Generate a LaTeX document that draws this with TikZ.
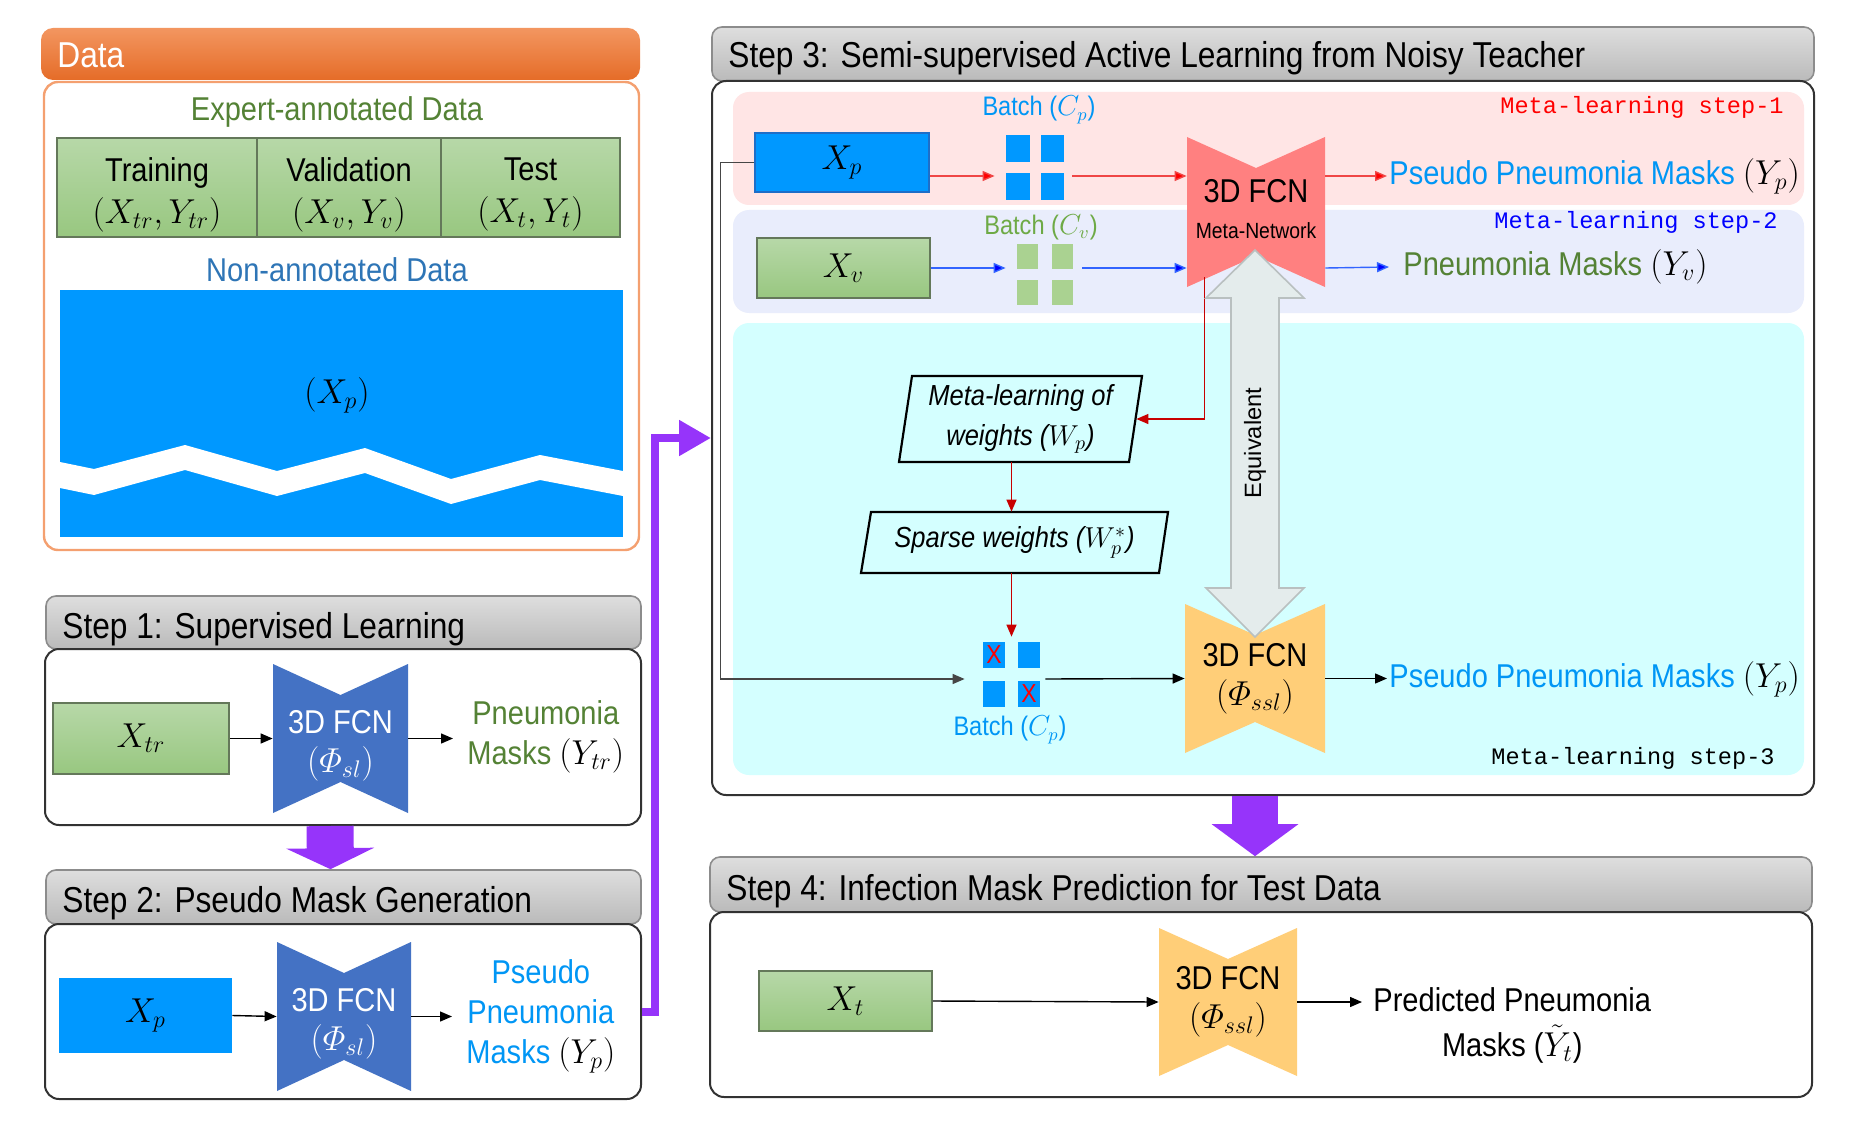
\documentclass[tikz,border=0pt]{standalone}
\usepackage{amsmath}
\usepackage[no-math]{fontspec}
\setmainfont[FakeStretch=0.88]{Liberation Sans}
\newfontfamily\eqfont{Liberation Sans}
\setmonofont{Liberation Mono}
\usetikzlibrary{arrows.meta,fit,calc}

\definecolor{orgtop}{RGB}{243,150,96}
\definecolor{orgbot}{RGB}{229,108,40}
\definecolor{orgline}{RGB}{244,160,112}
\definecolor{hdrtop}{RGB}{222,222,222}
\definecolor{hdrbot}{RGB}{186,186,186}
\definecolor{hdrline}{RGB}{140,140,140}
\definecolor{bodyline}{RGB}{50,50,50}
\definecolor{gtop}{RGB}{183,216,168}
\definecolor{gbot}{RGB}{152,199,128}
\definecolor{gline}{RGB}{100,120,90}
\definecolor{xblue}{RGB}{0,152,255}
\definecolor{xbline}{RGB}{30,110,200}
\definecolor{tgreen}{RGB}{84,130,53}
\definecolor{tblue}{RGB}{46,117,182}
\definecolor{lblue}{RGB}{0,150,245}
\definecolor{fcnblue}{RGB}{68,114,196}
\definecolor{purp}{RGB}{150,52,250}
\definecolor{pinkbg}{RGB}{255,229,229}
\definecolor{lavbg}{RGB}{233,237,252}
\definecolor{cyanbg}{RGB}{212,255,255}
\definecolor{salmon}{RGB}{255,128,128}
\definecolor{orA}{RGB}{255,206,120}
\definecolor{orB}{RGB}{255,228,170}
\definecolor{dred}{RGB}{200,0,0}
\definecolor{arrred}{RGB}{240,70,70}
\definecolor{arrblue}{RGB}{50,100,255}
\definecolor{sqgreen}{RGB}{170,210,145}
\definecolor{cvgreen}{RGB}{110,170,70}
\definecolor{eqfill}{RGB}{228,236,236}
\definecolor{eqline}{RGB}{185,192,192}
\definecolor{darkln}{RGB}{70,70,70}

\newcommand\myhdr{\fontsize{18}{21.6}\selectfont}
\newcommand\mymid{\fontsize{16.5}{20}\selectfont}
\newcommand\mycell{\fontsize{16.5}{21}\selectfont}
\newcommand\myfcn{\fontsize{16.5}{19.5}\selectfont}
\newcommand\mybig{\fontsize{16.5}{22.5}\selectfont}
\newcommand\mysmall{\fontsize{13.4}{15}\selectfont}
\newcommand\myit{\fontsize{14.5}{20}\selectfont\itshape}
\newcommand\mymath{\fontsize{18}{21.6}\selectfont}
\newcommand\mymono{\fontsize{11.8}{14}\selectfont\ttfamily}

\begin{document}
\begin{tikzpicture}[x=0.5pt,y=-0.5pt,
  sz/.style 2 args={minimum width=#1, minimum height=#2},
  hdr/.style={draw=hdrline, line width=0.8pt, rounded corners=5pt, top color=hdrtop, bottom color=hdrbot, inner sep=0pt},
  bodybox/.style={draw=bodyline, line width=1pt, rounded corners=7pt, fill=white, inner sep=0pt},
  gbox/.style={draw=gline, line width=0.8pt, top color=gtop, bottom color=gbot, inner sep=0pt},
  bbox/.style={fill=xblue, inner sep=0pt},
  region/.style={rounded corners=8pt, inner sep=0pt},
  fcn/.style={inner sep=0pt, align=center, font=\myfcn, path picture={\path[#1] (path picture bounding box.north west) -- ([yshift=-15.5pt]path picture bounding box.north) -- (path picture bounding box.north east) -- (path picture bounding box.south east) -- ([yshift=15.5pt]path picture bounding box.south) -- (path picture bounding box.south west) -- cycle;}},
  hdrtext/.style={anchor=base west, inner sep=0pt, font=\myhdr},
  arr/.style={draw=black, line width=0.7pt, -{Triangle[length=6pt,width=5pt]}},
  redarr/.style={draw=arrred, line width=0.7pt, -{Triangle[length=6pt,width=5pt,fill=red]}},
  bluearr/.style={draw=arrblue, line width=0.7pt, -{Triangle[length=6pt,width=5pt,fill=blue]}},
  dredarr/.style={draw=dred, line width=0.7pt, -{Triangle[length=6pt,width=5pt]}},
  mono/.style={font=\mymono, inner sep=0pt},
  redx/.style={text=red, font=\fontsize{13}{13}\selectfont, inner sep=0pt},
  para/.style={draw=black, line width=1.1pt, line join=miter},
  celltext/.style={font=\mycell, align=center, yshift=-3.5pt, inner sep=0pt},
  fcntext/.style={font=\myfcn, align=center, text=white, yshift=-3.5pt, inner sep=0pt},
]
\useasboundingbox (0,0) rectangle (1856,1134);

% ---------------- Data ----------------
\node[fit={(41,28) (640,80)}, rounded corners=6pt, top color=orgtop, bottom color=orgbot, inner sep=0pt] (datahdr) {};
\node[hdrtext, text=white] (datatxt) at (57,68) {Data};
\node[fit={(44,82) (639,550)}, draw=orgline, line width=1.2pt, rounded corners=7pt, fill=white, inner sep=0pt] (databody) {};
\node[font=\mymid, text=tgreen] (expert) at (337,112) {Expert-annotated Data};
\node[gbox, sz={100pt}{49.5pt}, label={[celltext]center:{Training\\$(X_{tr},Y_{tr})$}}] (train) at (157,187.5) {};
\node[gbox, sz={92pt}{49.5pt}, label={[celltext]center:{Validation\\$(X_{v},Y_{v})$}}] (valid) at (349,187.5) {};
\node[gbox, sz={89.5pt}{49.5pt}, label={[celltext]center:{Test\\$(X_{t},Y_{t})$}}] (test) at (530.5,187.5) {};
\node[font=\mymid, text=tblue] (nonann) at (337,270) {Non-annotated Data};
\node[bbox, fit={(60,290) (623,537)}] (xpool) {};
\fill[white] (60,462) -- (94,469) -- (185,445) -- (277,471) -- (365,448) -- (451,479) -- (540,455) -- (623,471) -- (623,496) -- (540,480) -- (451,504) -- (365,473) -- (277,496) -- (185,470) -- (94,495) -- (60,488) -- cycle;
\node[font=\mymath] (xplabel) at (337,395) {$(X_p)$};

% ---------------- Step 1 ----------------
\node[hdr, fit={(46,596) (641,649)}] (s1h) {};
\node[hdrtext] (s1t) at (62,638) {Step 1: Supervised Learning};
\node[bodybox, fit={(45,649) (641,825)}] (s1b) {};
\node[gbox, sz={88pt}{35.5pt}, font=\mymath] (xtr) at (141,738.5) {$X_{tr}$};
\node[fcn={fill=fcnblue}, sz={67.5pt}{74.5pt}, label={[fcntext]center:{3D FCN\\$(\varPhi_{sl})$}}] (f1) at (340.5,738.5) {};
\node[font=\mymid, text=tgreen, align=center, anchor=west, inner sep=7pt] (m1) at (453,737) {Pneumonia\\Masks \textcolor{black}{$(Y_{tr})$}};
\draw[arr] (xtr.east) -- (f1.west);
\draw[arr] (f1.east) -- (f1.east -| m1.west);

% ---------------- Step 2 ----------------
\node[hdr, fit={(46,870) (641,924)}] (s2h) {};
\node[hdrtext] (s2t) at (62,912) {Step 2: Pseudo Mask Generation};
\node[bodybox, fit={(45,924) (641,1099)}] (s2b) {};
\node[bbox, sz={86.5pt}{37.5pt}, font=\mymath] (xp2) at (145.5,1015.5) {$X_p$};
\node[fcn={fill=fcnblue}, sz={67pt}{74.5pt}, label={[fcntext]center:{3D FCN\\$(\varPhi_{sl})$}}] (f2) at (344,1016.5) {};
\node[font=\mymid, text=lblue, align=center, anchor=west, inner sep=7pt] (m2) at (452,1016) {Pseudo\\Pneumonia\\Masks \textcolor{black}{$(Y_p)$}};
\draw[arr] (xp2.east) -- (f2.west);
\draw[arr] (f2.east) -- (f2.east -| m2.west);

% purple arrow step1 -> step2
\draw[purp, line width=23.5pt, -{Triangle[length=10.5pt,width=43.5pt]}] ([xshift=-6.5pt]s1b.south) -- ([xshift=-6.5pt]s2h.north);

% ---------------- Step 3 ----------------
\node[hdr, fit={(712,27) (1814,81)}] (s3h) {};
\node[hdrtext] (s3t) at (728,68) {Step 3: Semi-supervised Active Learning from Noisy Teacher};
\node[bodybox, fit={(712,81) (1814,795)}] (s3b) {};
\node[region, fill=pinkbg, fit={(733,92) (1804,205)}] (r1) {};
\node[region, fill=lavbg, fit={(733,210) (1804,313)}] (r2) {};
\node[region, fill=cyanbg, fit={(733,323) (1804,775)}] (r3) {};
\node[mono, text=red, anchor=east] (ml1) at (1784,107) {Meta-learning step-1};
\node[mono, text=blue, anchor=east] (ml2) at (1778,222) {Meta-learning step-2};
\node[mono, text=black, anchor=east] (ml3) at (1775,758) {Meta-learning step-3};

% row 1
\node[bbox, draw=xbline, line width=0.6pt, sz={87pt}{29.5pt}, font=\mymath] (xp3) at (842,162.5) {$X_p$};
\node[fit={(995,152) (1072,200)}, inner sep=0pt] (bp) {};
\fill[xblue] (1006,135) rectangle (1030,162);
\fill[xblue] (1041,135) rectangle (1064,162);
\fill[xblue] (1006,173) rectangle (1030,200);
\fill[xblue] (1041,173) rectangle (1064,200);
\node[font=\mysmall, text=lblue] (bpl) at (1039,110) {Batch ($C_p$)};
\node[fcn={fill=salmon}, fit={(1187,137) (1325,287)}] (meta) {};
\node[font=\myfcn, inner sep=0pt] (metat) at (1256,191) {3D FCN};
\node[font=\fontsize{11}{12}\selectfont, inner sep=0pt] (metan) at (1256,231) {Meta-Network};
\node[anchor=west, inner sep=1pt, font=\mybig, text=lblue] (pm1) at (1387,176) {Pseudo Pneumonia Masks \textcolor{black}{$(Y_p)$}};
\draw[redarr] (xp3.east |- bp.west) -- (bp.west);
\draw[redarr] (bp.east) -- (meta.west |- bp.east);
\draw[redarr] (meta.east |- bp.east) -- (pm1.west);

% row 2
\node[gbox, sz={86.5pt}{30pt}, font=\mymath] (xv) at (843.5,268) {$X_v$};
\node[fit={(1006,250) (1082,286)}, inner sep=0pt] (bv) {};
\fill[sqgreen] (1017,244) rectangle (1038,269);
\fill[sqgreen] (1052,244) rectangle (1073,269);
\fill[sqgreen] (1017,280) rectangle (1038,305);
\fill[sqgreen] (1052,280) rectangle (1073,305);
\node[font=\mysmall, text=cvgreen] (bvl) at (1041,227) {Batch ($C_v$)};
\node[anchor=west, inner sep=7pt, font=\mybig, text=tgreen] (pm2) at (1389,267) {Pneumonia Masks \textcolor{black}{$(Y_v)$}};
\draw[bluearr] (xv.east |- bv.west) -- (bv.west);
\draw[bluearr] (bv.east) -- (meta.west |- bv.east);
\draw[bluearr] (meta.east |- bv.east) -- (pm2.west);

% meta-learning flow
\draw[para] (912,376) -- (1142,376) -- (1129,462) -- (899,462) -- cycle;
\node[sz={121.5pt}{43pt}, inner sep=0pt, align=center, font=\myit] (mlw) at (1020.5,419) {Meta-learning of\\weights ($W_p$)};
\draw[para] (871,512) -- (1168,512) -- (1159,573) -- (861,573) -- cycle;
\node[sz={153.5pt}{30.5pt}, inner sep=0pt, font=\myit] (swl) at (1014.5,542.5) {Sparse weights ($W_p^*$)};
\node[fit={(978,637) (1045,721)}, inner sep=0pt] (bx) {};
\fill[xblue] (983,642) rectangle (1005,668);
\fill[xblue] (1018,642) rectangle (1040,668);
\fill[xblue] (983,681) rectangle (1005,707);
\fill[xblue] (1018,681) rectangle (1040,707);
\node[redx] (x1) at (994,655) {X};
\node[redx] (x2) at (1029,694) {X};
\node[font=\mysmall, text=lblue] (bxl) at (1010,730) {Batch ($C_p$)};
\draw[dredarr] ([xshift=9pt,yshift=5pt]meta.south west) |- ([xshift=-3pt]mlw.east);
\draw[dredarr] (mlw.south -| bx.north) -- (swl.north -| bx.north);
\draw[dredarr] (swl.south -| bx.north) -- (bx.north);

% row 3
\node[fcn={left color=orA, middle color=orB, right color=orA}, sz={70pt}{74.5pt}] (o3) at (1255,678.5) {3D FCN\\$(\varPhi_{ssl})$};
\node[anchor=west, inner sep=1pt, font=\mybig, text=lblue] (pm3) at (1387,679) {Pseudo Pneumonia Masks \textcolor{black}{$(Y_p)$}};
\draw[arr, draw=darkln] (xp3.west) -- ++(-34,0) |- ([xshift=-6.5pt]bx.west);
\draw[arr] (bx.east) -- (o3.west);
\draw[arr] (o3.east) -- (o3.east -| pm3.west);

% Equivalent double arrow
\draw[fill=eqfill, draw=eqline, line width=0.8pt] (1255,250) -- (1304,298) -- (1279,298) -- (1279,588) -- (1304,588) -- (1255,637) -- (1206,588) -- (1231,588) -- (1231,298) -- (1206,298) -- cycle;
\node[rotate=90, font=\eqfont\fontsize{11.8}{14}\selectfont, inner sep=0pt] (eq) at (1255,443) {Equivalent};

% purple connector step2 -> step3
\draw[purp, line width=4pt, -{Triangle[length=16pt,width=17pt]}] (s2b.east) -- ++(13,0) |- (s3b.west);

% ---------------- Step 4 ----------------
\node[hdr, fit={(710,857) (1812,912)}] (s4h) {};
\node[hdrtext] (s4t) at (726,900) {Step 4: Infection Mask Prediction for Test Data};
\node[bodybox, fit={(710,912) (1812,1097)}] (s4b) {};
\node[gbox, sz={86.5pt}{30pt}, font=\mymath] (xt) at (845.5,1001) {$X_t$};
\node[fcn={left color=orA, middle color=orB, right color=orA}, sz={69pt}{74pt}] (o4) at (1228,1002) {3D FCN\\$(\varPhi_{ssl})$};
\node[anchor=west, inner sep=5.5pt, align=center, font=\mybig] (pred) at (1362,1025) {Predicted Pneumonia\\Masks ($\tilde{Y}_t$)};
\draw[arr] (xt.east) -- (o4.west);
\draw[arr] (o4.east) -- (o4.east -| pred.west);

\draw[purp, line width=23pt, -{Triangle[length=16pt,width=42.5pt]}] ([xshift=-4pt]s3b.south) -- ([xshift=-3pt]s4h.north);
\end{tikzpicture}
\end{document}
